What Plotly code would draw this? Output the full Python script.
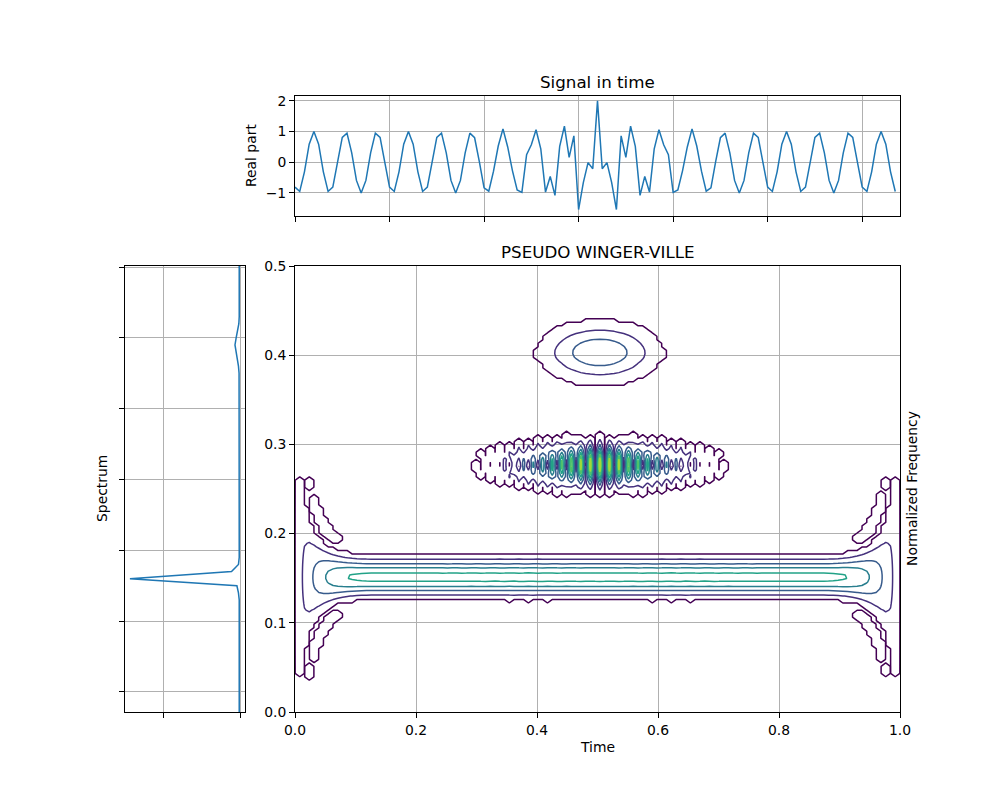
import numpy as np
import plotly.graph_objects as go

# ---- data ----
# real part of the signal (128 samples)
signal_real = [
    -0.81, -0.95, -0.31, 0.59, 1.00, 0.59, -0.31, -0.95, -0.81, 0.00,
    0.81, 0.95, 0.31, -0.59, -1.00, -0.59, 0.31, 0.95, 0.81, 0.00,
    -0.81, -0.95, -0.31, 0.59, 1.00, 0.59, -0.31, -0.95, -0.81, 0.00,
    0.81, 0.95, 0.31, -0.59, -1.00, -0.59, 0.31, 0.95, 0.80, 0.02,
    -0.83, -0.94, -0.29, 0.53, 1.09, 0.50, -0.27, -0.90, -0.98, 0.25,
    0.57, 1.06, 0.44, -0.97, -0.46, -1.08, 0.52, 1.18, 0.16, 0.86,
    -1.54, -0.66, -0.01, -0.21, 2.00, -0.21, -0.01, -0.66, -1.54, 0.86,
    0.16, 1.18, 0.52, -1.08, -0.46, -0.97, 0.44, 1.06, 0.57, 0.25,
    -0.98, -0.90, -0.27, 0.50, 1.09, 0.53, -0.29, -0.94, -0.83, 0.02,
    0.80, 0.95, 0.31, -0.59, -1.00, -0.59, 0.31, 0.95, 0.81, 0.00,
    -0.81, -0.95, -0.31, 0.59, 1.00, 0.59, -0.31, -0.95, -0.81, 0.00,
    0.81, 0.95, 0.31, -0.59, -1.00, -0.59, 0.31, 0.95, 0.81, 0.00,
    -0.81, -0.95, -0.31, 0.59, 1.00, 0.59, -0.31, -0.95,
]

# spectrum (left panel): frequency-bin positions and magnitudes
spec_bins = list(range(-3, 62))
spec_vals = (
    [0.01] * 17
    + [0.02, 0.04, 1.43, 0.11, 0.02]
    + [0.01] * 26
    + [0.012, 0.02, 0.035, 0.055, 0.065, 0.05, 0.03, 0.015]
    + [0.01] * 9
)

time_ticks = [0.0, 0.2, 0.4, 0.6, 0.8, 1.0]
time_ticklabels = ["0.0", "0.2", "0.4", "0.6", "0.8", "1.0"]
freq_ticks = [0.0, 0.1, 0.2, 0.3, 0.4, 0.5]
freq_ticklabels = ["0.0", "0.1", "0.2", "0.3", "0.4", "0.5"]
sig_yticks = [-1, 0, 1, 2]
sig_yticklabels = ["\u22121", "0", "1", "2"]
sig_xticks = [0, 20, 40, 60, 80, 100, 120]
spec_yticks = [0, 10, 20, 30, 40, 50, 60]
spec_xticks = [0, 1]

# contour settings
n_levels = 8
level_step = 4.0
level_base = 0.05
threshold_ratio = 0.05
window_len = 33
edge_fit_len = 36
ext_len = 192

# ---- analytic signal (Hilbert via FFT, edges continued by linear prediction) ----
x = np.array(signal_real, dtype=float)
N = len(x)


def ar2_continue(seg, n_ext):
    A = np.column_stack([seg[1:-1], seg[:-2]])
    coef = np.linalg.lstsq(A, seg[2:], rcond=None)[0]
    out = list(seg)
    for _ in range(n_ext):
        out.append(coef[0] * out[-1] + coef[1] * out[-2])
    return np.array(out[len(seg):])


right_ext = ar2_continue(x[-edge_fit_len:], ext_len)
left_ext = ar2_continue(x[:edge_fit_len][::-1], ext_len)[::-1]
xl = np.concatenate([left_ext, x, right_ext])
M = len(xl)
hmul = np.zeros(M)
hmul[0] = 1
hmul[1:M // 2] = 2
hmul[M // 2] = 1
zsig = np.fft.ifft(np.fft.fft(xl) * hmul)[ext_len:ext_len + N]

# ---- pseudo Wigner-Ville distribution ----
win = np.hamming(window_len)
lh = (window_len - 1) // 2
tfr = np.zeros((N, N), dtype=complex)
for ti in range(N):
    taumax = min(ti, N - ti - 1, N // 2 - 1, lh)
    tau = np.arange(-taumax, taumax + 1)
    idx = (N + tau) % N
    tfr[idx, ti] = win[lh + tau] * zsig[ti + tau] * np.conj(zsig[ti - tau])
tfr = np.abs(np.real(np.fft.fft(tfr, axis=0)))
thr = threshold_ratio * tfr.max()
tfr[tfr <= thr] = 0.0

lev_start = level_base
lev_end = level_base + level_step * (n_levels - 1)

ts = np.linspace(0, 1, N)
fs = np.linspace(0, 0.5, N)

font = dict(family="DejaVu Sans", size=13.9, color="black")
axis_common = dict(
    showline=True, mirror=True, linecolor="black", linewidth=1,
    ticks="outside", ticklen=5, tickwidth=1, tickcolor="black",
    showgrid=True, gridcolor="#b0b0b0", gridwidth=0.8, zeroline=False,
    tickfont=font, automargin=False,
)

fig = go.Figure()
fig.add_trace(go.Contour(
    x=ts, y=fs, z=tfr, xaxis="x", yaxis="y",
    colorscale="Viridis", zmin=lev_start, zmax=lev_end,
    contours=dict(start=lev_start, end=lev_end, size=level_step, coloring="lines"),
    line=dict(width=1.5, smoothing=0), showscale=False, hoverinfo="skip",
))
fig.add_trace(go.Scatter(
    x=list(range(N)), y=signal_real, xaxis="x2", yaxis="y2", mode="lines",
    line=dict(color="#1f77b4", width=1.5), showlegend=False,
))
fig.add_trace(go.Scatter(
    x=spec_vals, y=spec_bins, xaxis="x3", yaxis="y3", mode="lines",
    line=dict(color="#1f77b4", width=1.5), showlegend=False,
))

fig.update_layout(
    width=1000, height=800, margin=dict(l=0, r=0, t=0, b=0, pad=0),
    paper_bgcolor="white", plot_bgcolor="white", showlegend=False,
    font=font,
    xaxis=dict(domain=[0.295, 0.9], anchor="y", range=[0, 1],
               tickvals=time_ticks, ticktext=time_ticklabels, **axis_common),
    yaxis=dict(domain=[0.11, 0.6675], anchor="x", range=[0, 0.5],
               tickvals=freq_ticks, ticktext=freq_ticklabels, **axis_common),
    xaxis2=dict(domain=[0.295, 0.9], anchor="y2", range=[0, 128],
                tickvals=sig_xticks, showticklabels=False, **axis_common),
    yaxis2=dict(domain=[0.73, 0.88], anchor="x2", range=[-1.75, 2.16],
                tickvals=sig_yticks, ticktext=sig_yticklabels, **axis_common),
    xaxis3=dict(domain=[0.125, 0.245], anchor="y3", range=[1.494, -0.065],
                tickvals=spec_xticks, showticklabels=False, **axis_common),
    yaxis3=dict(domain=[0.11, 0.6675], anchor="x3", range=[-2.83, 60.15],
                tickvals=spec_yticks, showticklabels=False, **axis_common),
)

title_font = dict(family="DejaVu Sans", size=16.7, color="black")
ann = [
    dict(text="Signal in time", x=0.5975, y=1 - 82 / 800, font=title_font),
    dict(text="PSEUDO WINGER-VILLE", x=0.5975, y=1 - 252 / 800, font=title_font),
    dict(text="Time", x=0.5975, y=1 - 747 / 800, font=font),
    dict(text="Real part", x=0.251, y=1 - 156 / 800, font=font, textangle=-90),
    dict(text="Spectrum", x=0.102, y=1 - 489 / 800, font=font, textangle=-90),
    dict(text="Normalized Frequency", x=0.912, y=1 - 489 / 800, font=font, textangle=-90),
]
for a in ann:
    a.update(xref="paper", yref="paper", showarrow=False, xanchor="center", yanchor="middle")
fig.update_layout(annotations=ann)

fig.write_html("out.html")
